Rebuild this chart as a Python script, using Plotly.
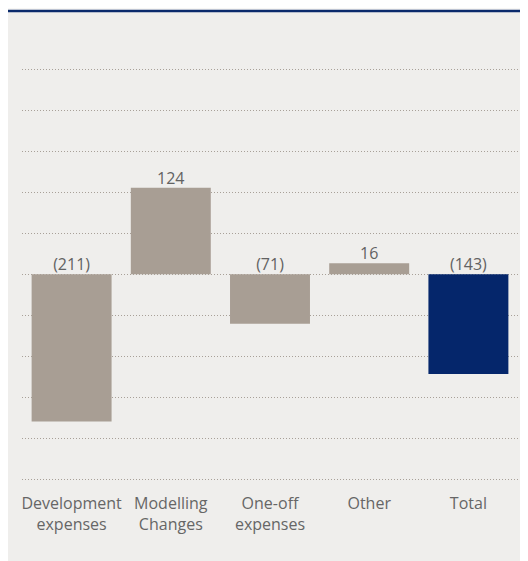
import plotly.graph_objects as go

categories = ["Development<br>expenses", "Modelling<br>Changes", "One-off<br>expenses", "Other", "Total"]
values = [-211, 124, -71, 16, -143]
bar_colors = ["#a89e94", "#a89e94", "#a89e94", "#a89e94", "#05266b"]
grid_values = [-294, -235.2, -176.4, -117.6, -58.8, 0, 58.8, 117.6, 176.4, 235.2, 294]

labels = [f"({abs(v)})" if v < 0 else str(v) for v in values]
label_y = [max(v, 0) for v in values]

FONT = "Open Sans, Noto Sans, sans-serif"
# page body adds an 8px margin; figure coordinates are reference coordinates minus 8
OFF = 8
W, H = 520, 553
plot_top, plot_bottom = 32, 478
zero_px = 274.3 - OFF
px_per_unit = 41 / 58.8
y_max = (zero_px - plot_top) / px_per_unit
y_min = -(plot_bottom - zero_px) / px_per_unit

fig = go.Figure()
fig.add_trace(go.Bar(
    x=categories, y=values, marker=dict(color=bar_colors, line=dict(width=0)),
    width=0.806, hoverinfo="skip", showlegend=False,
))
fig.add_trace(go.Scatter(
    x=categories, y=label_y, mode="text", text=labels, textposition="top center",
    textfont=dict(family=FONT, size=16, color="#626262"), hoverinfo="skip", showlegend=False,
))

l, right = 14, 510
fig.update_layout(
    width=W, height=H,
    margin=dict(l=l, r=W - right, t=plot_top, b=H - plot_bottom, pad=0),
    paper_bgcolor="#efeeec", plot_bgcolor="rgba(0,0,0,0)",
    font=dict(family=FONT, size=16, color="#666666"),
    xaxis=dict(showgrid=False, zeroline=False, showline=False, ticks="outside",
               ticklen=3, tickcolor="rgba(0,0,0,0)",
               tickfont=dict(family=FONT, size=16, color="#666666")),
    yaxis=dict(range=[y_min, y_max], tickmode="array", tickvals=grid_values,
               showticklabels=False, showgrid=True, gridcolor="#a8a098",
               griddash="1px,2px", gridwidth=1, zeroline=False, showline=False),
)
plot_h = plot_bottom - plot_top
def py(px):
    return (plot_bottom - px) / plot_h
def px_x(px):
    return (px - l) / (right - l)
fig.add_shape(type="rect", xref="paper", yref="paper", x0=px_x(-2), x1=px_x(W + 2),
              y0=py(3), y1=py(-2), fillcolor="#f8f7f5", line=dict(width=0), layer="below")
fig.add_shape(type="line", xref="paper", yref="paper", x0=px_x(0), x1=px_x(W + 2),
              y0=py(3), y1=py(3), line=dict(color="#0a2a6b", width=2.5), layer="above")

fig.write_html("out.html")
